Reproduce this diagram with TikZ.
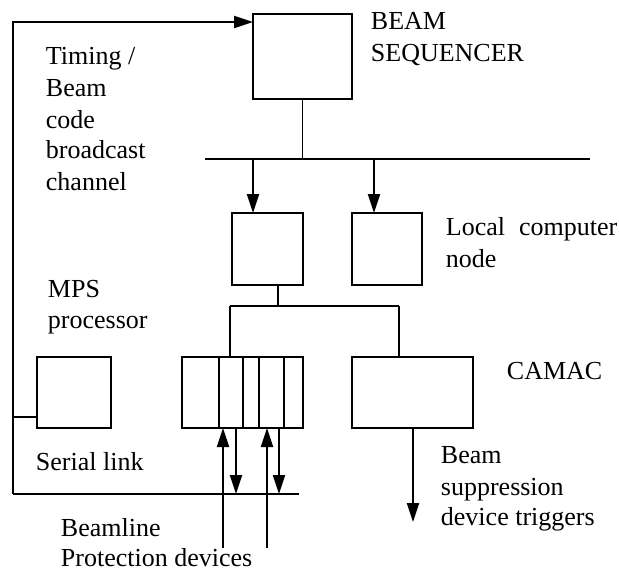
\documentclass[tikz,border=0pt]{standalone}
\usepackage{fontspec}
\setmainfont{Liberation Serif}
\usetikzlibrary{arrows.meta,calc}
\begin{document}
\begin{tikzpicture}[x=1pt,y=-1pt,line width=1.9pt,
  box/.style={draw,rectangle,inner sep=0pt,outer sep=0pt},
  arr/.style={-{Triangle[length=19pt,width=12pt]}},
  lbl/.style={anchor=base west,inner sep=0pt,font=\fontsize{26}{31}\selectfont}]
\useasboundingbox (0,0) rectangle (619,571);

% boxes
\node[box,minimum width=99pt,minimum height=85pt] (seq) at (302.5,56.5) {};
\node[box,minimum width=71pt,minimum height=72pt] (lcnA) at (267.5,249) {};
\node[box,minimum width=70pt,minimum height=72pt] (lcnB) at (387,249) {};
\node[box,minimum width=121pt,minimum height=71pt] (crate) at (242.5,392.5) {};
\node[box,minimum width=121pt,minimum height=71pt] (camac) at (412.5,392.5) {};
\node[box,minimum width=74pt,minimum height=71pt] (mps) at (74,392.5) {};

% crate slots
\foreach \sx in {219,243,259,284}
  \draw (\sx,357) -- (\sx,428);

% broadcast bus
\coordinate (busW) at (205,159);
\coordinate (busE) at (590,159);
\draw (busW) -- (busE);
\draw (seq.south) -- (seq.south |- busW);
\coordinate (tapA) at (253,159);
\coordinate (tapB) at (374,159);
\draw[arr] (tapA) -- (tapA |- lcnA.north);
\draw[arr] (tapB) -- (tapB |- lcnB.north);

% local node to CAMAC
\coordinate (jn) at (278,306);
\coordinate (hL) at (230,306);
\coordinate (hR) at (399,306);
\draw (jn |- lcnA.south) -- (jn);
\draw (hL) -- (hR);
\draw (hL) -- (hL |- crate.north);
\draw (hR) -- (hR |- camac.north);

% serial link loop back to the sequencer
\coordinate (fbT) at (13,22);
\coordinate (fbB) at (13,494);
\coordinate (botE) at (299,494);
\draw[arr] (fbB) -- (fbT) -- (fbT -| seq.west);
\draw (fbB) -- (botE);
\coordinate (mb) at (13,417);
\draw (mb) -- (mb -| mps.west);

% protection device signals
\coordinate (inA) at (223,548);
\coordinate (inB) at (267,548);
\coordinate (outA) at (236,494);
\coordinate (outB) at (279,494);
\draw[arr] (inA) -- (inA |- crate.south);
\draw[arr] (inB) -- (inB |- crate.south);
\draw[arr] (outA |- crate.south) -- (outA);
\draw[arr] (outB |- crate.south) -- (outB);

% suppression triggers
\coordinate (trig) at (413,522);
\draw[arr] (trig |- camac.south) -- (trig);

% labels
\node[lbl] (t1) at (370,29) {BEAM};
\node[lbl] (t2) at (370,61) {SEQUENCER};
\node[lbl] (t3) at (45,64) {Timing /};
\node[lbl] (t4) at (45,96) {Beam};
\node[lbl] (t5) at (45,128) {code};
\node[lbl] (t6) at (45,158) {broadcast};
\node[lbl] (t7) at (45,190) {channel};
\node[lbl] (t8) at (445,235) {Local\hspace{14pt}computer};
\node[lbl] (t9) at (445,267) {node};
\node[lbl] (t10) at (47,297) {MPS};
\node[lbl] (t11) at (47,328) {processor};
\node[lbl] (t12) at (506,379) {CAMAC};
\node[lbl] (t13) at (35,470) {Serial link};
\node[lbl] (t14) at (60,536) {Beamline};
\node[lbl] (t15) at (60,566) {Protection devices};
\node[lbl] (t16) at (440,463) {Beam};
\node[lbl] (t17) at (440,495) {suppression};
\node[lbl] (t18) at (440,525) {device triggers};
\end{tikzpicture}
\end{document}
